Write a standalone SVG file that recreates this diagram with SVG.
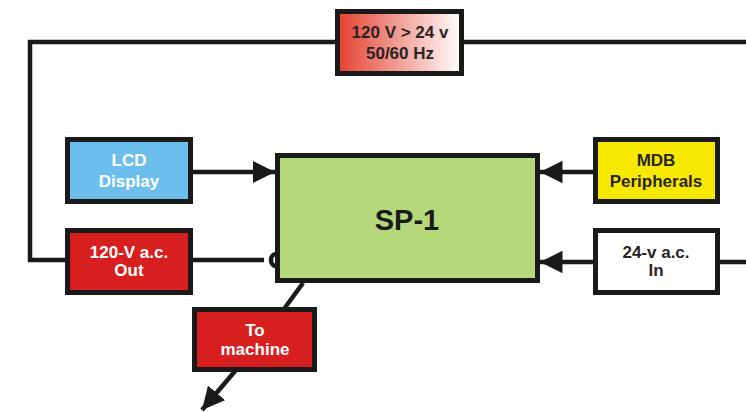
<svg xmlns="http://www.w3.org/2000/svg" width="746" height="412" viewBox="0 0 746 412">
<defs>
<linearGradient id="g" x1="0" y1="0" x2="1" y2="0">
<stop offset="0" stop-color="#e4412f"/>
<stop offset="1" stop-color="#ffffff"/>
</linearGradient>
<marker id="ah" viewBox="0 0 10 10" refX="10" refY="5" markerWidth="5" markerHeight="5" markerUnits="strokeWidth" orient="auto">
<path d="M0,0 L10,5 L0,10 Z" fill="#1a1a1a"/>
</marker>
<style>
.box{stroke:#1a1a1a;stroke-width:5}
.ln{stroke:#1a1a1a;stroke-width:4.5;fill:none}
.t{font-family:"Liberation Sans",Arial,sans-serif;font-weight:bold;font-size:17px;text-anchor:middle}
.w{fill:#ffffff}
.d{fill:#2a2424}
.big{font-size:29px;fill:#1a1a1a}
</style>
</defs>
<rect width="746" height="412" fill="#ffffff"/>
<g id="connectors">
<polyline class="ln" points="337,42 30,42 30,260 67,260"/>
<line class="ln" x1="462" y1="42" x2="746" y2="42"/>
<line class="ln" x1="191" y1="172" x2="275" y2="172" marker-end="url(#ah)"/>
<line class="ln" x1="191" y1="260" x2="264" y2="260"/>
<path class="ln" d="M276,254 A5,6 0 1 0 276,266" stroke-width="3.5"/>
<line class="ln" x1="595" y1="172" x2="540" y2="172" marker-end="url(#ah)"/>
<line class="ln" x1="595" y1="262" x2="540" y2="262" marker-end="url(#ah)"/>
<line class="ln" x1="718" y1="262" x2="746" y2="262"/>
<line class="ln" x1="303" y1="283" x2="284" y2="309"/>
<line class="ln" x1="236" y1="370" x2="202" y2="410" marker-end="url(#ah)"/>
</g>
<g id="transformer">
<rect class="box" x="337.5" y="11.5" width="124" height="62" fill="url(#g)"/>
<text class="t d" x="400" y="38">120 V &gt; 24 v</text>
<text class="t d" x="400" y="59">50/60 Hz</text>
</g>
<g id="lcd">
<rect class="box" x="67.5" y="139.5" width="123" height="62" fill="#6cbfec"/>
<text class="t w" x="129" y="166">LCD</text>
<text class="t w" x="129" y="187">Display</text>
</g>
<g id="out120">
<rect class="box" x="67.5" y="230.5" width="123" height="62" fill="#d81f1f"/>
<text class="t w" x="129" y="258">120-V a.c.</text>
<text class="t w" x="129" y="276">Out</text>
</g>
<g id="sp1">
<rect class="box" x="277.5" y="155.5" width="260" height="125" fill="#b5d97a"/>
<text class="t big" x="407" y="230">SP-1</text>
</g>
<g id="mdb">
<rect class="box" x="595.5" y="139.5" width="122" height="62" fill="#f7e800"/>
<text class="t d" x="656" y="166">MDB</text>
<text class="t d" x="656" y="187">Peripherals</text>
</g>
<g id="in24">
<rect class="box" x="595.5" y="230.5" width="122" height="62" fill="#ffffff"/>
<text class="t d" x="656" y="258">24-v a.c.</text>
<text class="t d" x="656" y="276">In</text>
</g>
<g id="machine">
<rect class="box" x="194.5" y="309.5" width="120" height="60" fill="#d81f1f"/>
<text class="t w" x="255" y="336">To</text>
<text class="t w" x="255" y="355">machine</text>
</g>
</svg>
